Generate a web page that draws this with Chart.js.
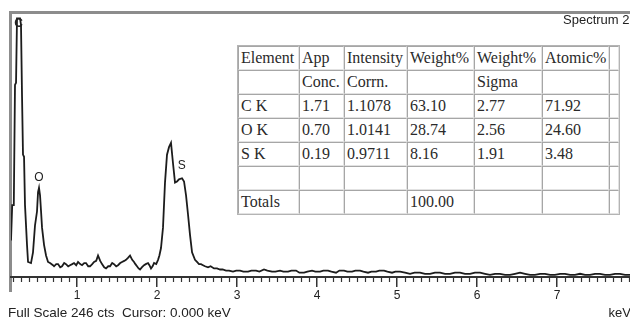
<!DOCTYPE html>
<html>
<head>
<meta charset="utf-8">
<script src="https://cdn.jsdelivr.net/npm/chart.js@4.4.0/dist/chart.umd.min.js"></script>
<style>
  body { margin: 0; background: #fff; }
  #wrap { position: relative; width: 630px; height: 321px; overflow: hidden; }
  #quant {
    position: absolute; left: 237px; top: 45px; width: 381px;
    table-layout: fixed; border-collapse: separate; border-spacing: 0;
    border: 1px solid #b4b4b4; background: #fff;
    font-family: "Liberation Serif", serif; font-size: 16px; color: #2a2a2a;
  }
  #quant td {
    border: 1px solid; border-color: #a6a6a6 #e2e2e2 #e2e2e2 #a6a6a6;
    height: 22px; padding: 0 0 0 2px; white-space: nowrap; overflow: hidden;
  }
</style>
</head>
<body>
<div id="wrap">
  <canvas id="spectrum" width="630" height="321"></canvas>
  <table id="quant"></table>
</div>
<script>
// spectrum trace: energy (keV) and counts
const energies = [
  0.175, 0.19, 0.21, 0.225, 0.238, 0.25, 0.288, 0.3, 0.313, 0.325, 0.338, 0.35, 0.375, 0.388,
  0.425, 0.45, 0.475, 0.5, 0.513, 0.525, 0.538, 0.55, 0.563, 0.588, 0.613, 0.638, 0.663,
  0.7, 0.713, 0.74, 0.763, 0.79, 0.813, 0.84, 0.863, 0.89, 0.913, 0.94, 0.963, 0.99,
  1.013, 1.04, 1.063, 1.09, 1.113, 1.14, 1.163, 1.19, 1.213, 1.24, 1.263, 1.29, 1.313, 1.34,
  1.363, 1.39, 1.413, 1.44, 1.463, 1.49, 1.513, 1.54, 1.563, 1.59, 1.613, 1.64, 1.663, 1.69,
  1.713, 1.73, 1.75, 1.77, 1.788, 1.81, 1.838, 1.86, 1.888, 1.905, 1.925, 1.945, 1.963, 1.99,
  2.013, 2.03, 2.05, 2.075, 2.1, 2.125, 2.15, 2.175, 2.2, 2.225, 2.25, 2.275, 2.313, 2.338,
  2.363, 2.388, 2.413, 2.438, 2.475, 2.5, 2.525, 2.55, 2.575, 2.6, 2.638, 2.67, 2.713, 2.75,
  2.788, 2.82, 2.863, 2.9, 2.95, 2.99, 3.038, 3.08, 3.138, 3.18, 3.238, 3.28, 3.338, 3.38,
  3.438, 3.48, 3.538, 3.58, 3.638, 3.68, 3.738, 3.78, 3.838, 3.88, 3.938, 3.98, 4.038, 4.08,
  4.138, 4.18, 4.238, 4.28, 4.338, 4.38, 4.438, 4.48, 4.538, 4.58, 4.638, 4.68, 4.738, 4.78,
  4.838, 4.88, 4.938, 4.98, 5.038, 5.1, 5.163, 5.22, 5.288, 5.35, 5.413, 5.475, 5.538, 5.6,
  5.663, 5.725, 5.788, 5.85, 5.913, 5.975, 6.038, 6.1, 6.163, 6.225, 6.288, 6.35, 6.413, 6.475,
  6.538, 6.6, 6.663, 6.725, 6.788, 6.85, 6.913, 6.975, 7.038, 7.1, 7.163, 7.225, 7.288, 7.35,
  7.413, 7.475, 7.538, 7.6, 7.663, 7.725, 7.788, 7.85, 7.913
];
const counts = [
  34, 67, 67, 179, 181, 241, 241, 235, 168, 114, 112, 67, 30, 14,
  13, 23, 48, 61, 79, 83, 76, 62, 46, 30, 20, 14, 13,
  11, 10, 12, 12, 9, 10, 13, 12, 10, 11, 12, 13, 11,
  14, 12, 11, 13, 13, 10, 10, 12, 14, 15, 20, 15, 12, 9,
  8, 10, 10, 13, 12, 10, 11, 13, 14, 15, 16, 18, 20, 16,
  14, 12, 10, 8, 7, 9, 11, 12, 13, 11, 8, 10, 13, 12,
  16, 20, 27, 46, 88, 114, 121, 125, 106, 88, 89, 91, 92, 89,
  76, 58, 39, 23, 16, 14, 12, 12, 11, 10, 9, 10, 8, 8,
  7, 7, 6, 6, 5, 6, 6, 5, 5, 6, 6, 5, 7, 6,
  5, 5, 6, 5, 5, 6, 6, 4, 4, 5, 6, 5, 5, 6,
  6, 5, 4, 6, 6, 5, 5, 6, 6, 5, 4, 5, 5, 6,
  6, 5, 4, 5, 5, 4, 3, 4, 4, 3, 3, 4, 4, 3,
  3, 4, 4, 3, 3, 4, 4, 3, 2, 3, 3, 2, 2, 3,
  4, 3, 2, 2, 3, 3, 2, 2, 3, 3, 2, 2, 3, 2,
  2, 3, 3, 2, 2, 3, 3, 2, 2
];
const tickValues = [1, 2, 3, 4, 5, 6, 7];
const fullScale = 246;

// element markers
const peakNames = ["C", "O", "S"];
const peakEnergies = [0.27, 0.525, 2.31];
const peakLabelCounts = [236, 93, 104];

// quantification table
const tableHeader1 = ["Element", "App", "Intensity", "Weight%", "Weight%", "Atomic%", ""];
const tableHeader2 = ["", "Conc.", "Corrn.", "", "Sigma", "", ""];
const elements = ["C K", "O K", "S K"];
const appConc = ["1.71", "0.70", "0.19"];
const intensityCorrn = ["1.1078", "1.0141", "0.9711"];
const weightPct = ["63.10", "28.74", "8.16"];
const weightSigma = ["2.77", "2.56", "1.91"];
const atomicPct = ["71.92", "24.60", "3.48"];
const totals = ["Totals", "", "", "100.00", "", "", ""];
const colWidths = [61, 45, 63, 67, 68, 67, 10];

function buildTable() {
  const table = document.getElementById("quant");
  const cg = document.createElement("colgroup");
  colWidths.forEach(w => {
    const c = document.createElement("col");
    c.style.width = w + "px";
    cg.appendChild(c);
  });
  table.appendChild(cg);
  const rows = [tableHeader1, tableHeader2];
  elements.forEach((el, i) => {
    rows.push([el, appConc[i], intensityCorrn[i], weightPct[i], weightSigma[i], atomicPct[i], ""]);
  });
  rows.push(["", "", "", "", "", "", ""]);
  rows.push(totals);
  rows.forEach(r => {
    const tr = document.createElement("tr");
    r.forEach(txt => {
      const td = document.createElement("td");
      td.textContent = txt;
      tr.appendChild(td);
    });
    table.appendChild(tr);
  });
}
buildTable();

const spectrumDecor = {
  id: "spectrumDecor",
  beforeDraw(chart) {
    const ctx = chart.ctx;
    ctx.save();
    // grey window frame
    ctx.fillStyle = "#8c8c8c";
    ctx.fillRect(9, 11, 621, 3);
    ctx.fillRect(9, 11, 3, 281);
    ctx.restore();
  },
  afterDraw(chart) {
    const ctx = chart.ctx;
    const xs = chart.scales.x;
    const ys = chart.scales.y;
    const bottom = chart.chartArea.bottom;
    ctx.save();
    // minor ticks every 0.1 keV
    ctx.strokeStyle = "#333";
    ctx.lineWidth = 1.2;
    for (let k = 2; k < 80; k++) {
      if (k % 10 === 0) continue;
      const px = Math.round(xs.getPixelForValue(k / 10)) + 0.5;
      ctx.beginPath();
      ctx.moveTo(px, bottom);
      ctx.lineTo(px, bottom + 5);
      ctx.stroke();
    }
    // element labels
    ctx.fillStyle = "#222";
    ctx.textAlign = "center";
    ctx.textBaseline = "middle";
    peakNames.forEach((name, i) => {
      ctx.font = (i === 0 ? "bold " : "") + "12px 'Liberation Sans', Arial, sans-serif";
      ctx.fillText(name, xs.getPixelForValue(peakEnergies[i]), ys.getPixelForValue(peakLabelCounts[i]));
    });
    // status texts
    ctx.font = "13.5px 'Liberation Sans', Arial, sans-serif";
    ctx.textAlign = "left";
    ctx.fillText("Full Scale " + fullScale + " cts  Cursor: 0.000 keV", 8, 313);
    ctx.font = "13px 'Liberation Sans', Arial, sans-serif";
    ctx.fillText("Spectrum 2", 563, 20);
    ctx.textAlign = "right";
    ctx.fillText("keV", 631, 313);
    ctx.restore();
  }
};

const chart = new Chart("spectrum", {
  type: "line",
  data: {
    datasets: [
      {
        label: "Spectrum 2",
        data: energies.map((e, i) => ({ x: e, y: counts[i] })),
        borderColor: "#1c1c1c",
        borderWidth: 1.8,
        pointRadius: 0,
        lineTension: 0,
        fill: false,
      },
    ],
  },
  options: {
    responsive: false,
    animation: false,
    events: [],
    layout: { padding: { left: 11, top: 13, right: 0, bottom: 20 } },
    plugins: { legend: { display: false }, tooltip: { enabled: false } },
    scales: {
      x: {
        type: "linear",
        min: 0.175,
        max: 7.9125,
        afterBuildTicks(scale) {
          scale.ticks = tickValues.map(v => ({ value: v }));
        },
        afterFit(scale) {
          scale.height = 24;
        },
        grid: { drawOnChartArea: false, tickLength: 10, color: "#333", lineWidth: 1.5 },
        border: { color: "#333", width: 2 },
        ticks: {
          color: "#222",
          padding: 1,
          maxRotation: 0,
          font: { family: "'Liberation Sans', Arial, sans-serif", size: 12 },
        },
      },
      y: {
        display: false,
        min: 0,
        max: fullScale,
      },
    },
  },
  plugins: [spectrumDecor],
});
</script>
</body>
</html>
